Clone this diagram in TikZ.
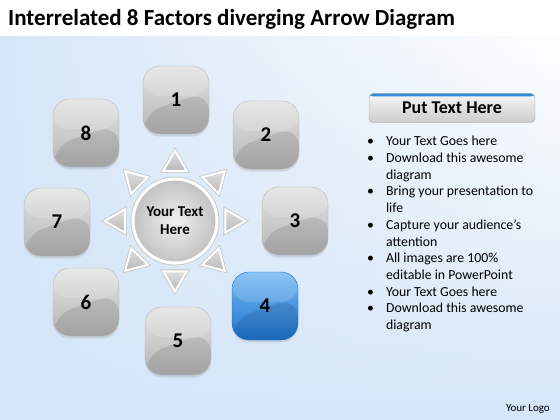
\documentclass[tikz,border=0pt]{standalone}
\usepackage{fontspec}
\setmainfont{Carlito}
\usetikzlibrary{shapes.geometric,shadows,calc,fadings}

\definecolor{paleblue}{RGB}{214,230,248}
\definecolor{keytop}{RGB}{118,184,242}
\definecolor{keybot}{RGB}{28,116,208}
\definecolor{headblue}{RGB}{52,140,215}

\def\tipdist{57}

\begin{document}
\begin{tikzpicture}[x=1pt,y=-1pt]
    \tikzstyle{factor}=[draw=gray!55, line width=0.4pt, rounded corners=17pt,
        minimum width=66pt, minimum height=68pt, top color=gray!22, bottom color=gray!58,
        font=\fontsize{21}{21}\selectfont\bfseries,
        drop shadow={opacity=0.22, shadow xshift=0pt, shadow yshift=-2.5pt},
        path picture={
            \fill[black, opacity=0.10] (path picture bounding box.south west)
                -- ($(path picture bounding box.south west)+(0,-18)$)
                .. controls +(20,-10) and +(-24,4) .. ($(path picture bounding box.south east)+(0,-40)$)
                -- (path picture bounding box.south east) -- cycle;
            \fill[white, opacity=0.15] (path picture bounding box.north west)
                rectangle ($(path picture bounding box.east)+(0,-4)$);
        }]
    \tikzstyle{hotfactor}=[factor, draw=keybot, top color=keytop, bottom color=keybot]
    \tikzstyle{arrowtip}=[regular polygon, regular polygon sides=3, minimum size=27pt,
        inner sep=0pt, draw=white, line width=2pt, top color=gray!25, bottom color=gray!55,
        preaction={draw=gray!45, line width=3.6pt}]
    \tikzstyle{bulletline}=[font=\fontsize{13.8}{16.7}\selectfont, inner sep=0pt, anchor=north west]

    % backdrop
    \useasboundingbox (0,0) rectangle (560,420);
    \fill[white] (0,0) rectangle (560,420);
    \fill[paleblue, path fading=north] (0,36) rectangle (560,420);
    \fill[paleblue, path fading=east] (0,36) rectangle (560,420);

    \node[anchor=base west, font=\fontsize{23}{23}\selectfont\bfseries, inner sep=0pt]
        (title) at (8,26) {Interrelated 8 Factors diverging Arrow Diagram};

    % hub and tips
    \node[circle, minimum size=84pt, inner sep=0pt, draw=white, line width=3pt,
        inner color=gray!12, outer color=gray!48, preaction={draw=gray!40, line width=5pt},
        align=center, font=\fontsize{15}{18}\selectfont\bfseries] (hub) at (175,221) {Your Text\\Here};
    \foreach \a in {0,45,...,315}
        \node[arrowtip, rotate=\a-90] (tip-\a) at ($(hub)+(-\a:\tipdist)$) {};

    % factors
    \foreach \n / \x / \y in {1/176/100, 2/266/135, 3/295/221, 5/178/341, 6/86/302, 7/57/222, 8/86/133}
        \node[factor] (F-\n) at (\x,\y) {\n};
    \node[hotfactor] (F-4) at (265,306) {4};

    % text panel
    \node[rounded corners=4pt, minimum width=166pt, minimum height=29pt, draw=gray!70,
        top color=gray!8, bottom color=gray!40, font=\fontsize{18}{20}\selectfont\bfseries,
        path picture={\fill[headblue] (path picture bounding box.north west)
            rectangle ($(path picture bounding box.north east)+(0,3)$);}]
        (head) at (452,108) {Put Text Here};
    \node[bulletline] (notes) at (367,134) {%
        \begin{tabular}{@{}l@{\hspace{12pt}}l@{}}
        \textbullet & Your Text Goes here\\
        \textbullet & Download this awesome\\
                    & diagram\\
        \textbullet & Bring your presentation to\\
                    & life\\
        \textbullet & Capture your audience’s\\
                    & attention\\
        \textbullet & All images are 100\%\\
                    & editable in PowerPoint\\
        \textbullet & Your Text Goes here\\
        \textbullet & Download this awesome\\
                    & diagram
        \end{tabular}};
    \node[anchor=base east, font=\fontsize{11}{12}\selectfont, inner sep=0pt] (logo) at (550,411) {Your Logo};
\end{tikzpicture}
\end{document}
